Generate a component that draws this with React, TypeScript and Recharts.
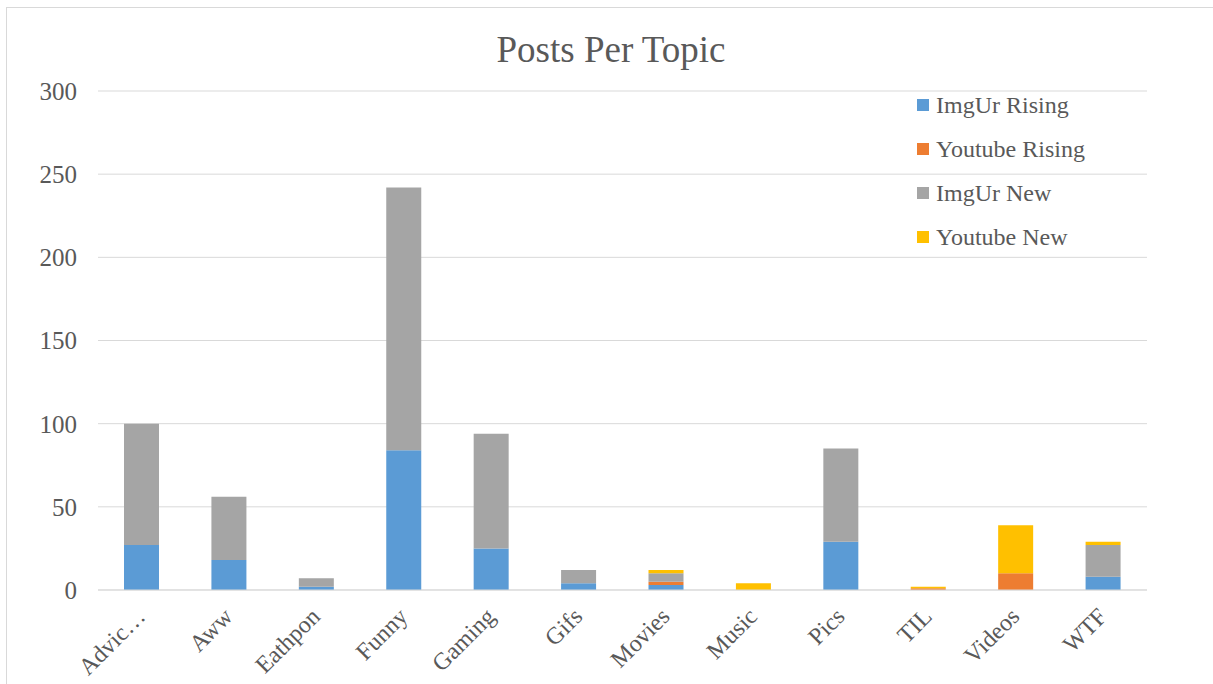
import React from 'react';
import { BarChart, Bar, XAxis, YAxis, CartesianGrid } from 'recharts';

const topics = ['Advice Animals', 'Aww', 'Eathpon', 'Funny', 'Gaming', 'Gifs', 'Movies', 'Music', 'Pics', 'TIL', 'Videos', 'WTF'];
const imgurRising = [27, 18, 2, 84, 25, 4, 3, 0, 29, 0, 0, 8];
const youtubeRising = [0, 0, 0, 0, 0, 0, 2, 0, 0, 1, 10, 0];
const imgurNew = [73, 38, 5, 158, 69, 8, 5, 0, 56, 0, 0, 19];
const youtubeNew = [0, 0, 0, 0, 0, 0, 2, 4, 0, 1, 29, 2];
const yTicks = [0, 50, 100, 150, 200, 250, 300];

const series = [
  { key: 'imgurRising', name: 'ImgUr Rising', color: '#5B9BD5' },
  { key: 'youtubeRising', name: 'Youtube Rising', color: '#ED7D31' },
  { key: 'imgurNew', name: 'ImgUr New', color: '#A5A5A5' },
  { key: 'youtubeNew', name: 'Youtube New', color: '#FFC000' },
];

const data = topics.map((t, i) => ({
  topic: t,
  imgurRising: imgurRising[i],
  youtubeRising: youtubeRising[i],
  imgurNew: imgurNew[i],
  youtubeNew: youtubeNew[i],
}));

const FONT = '"Liberation Serif", "Times New Roman", serif';
const TEXT = '#595959';

const shortLabel = (s: string) => (s.length > 8 ? s.slice(0, 5) + '…' : s);

const XTick = (props: any) => {
  const { x, y, payload } = props;
  const px = x + 5;
  const py = y + 20;
  return (
    <text
      x={px}
      y={py}
      transform={`rotate(-45, ${px}, ${py})`}
      textAnchor="end"
      fill={TEXT}
      fontSize={24}
      fontFamily={FONT}
    >
      {shortLabel(payload.value)}
    </text>
  );
};

export default function App() {
  return (
    <div style={{ position: 'absolute', left: 0, top: 0, width: 1213, height: 684, background: '#fff', overflow: 'hidden' }}>
      <div
        style={{
          position: 'absolute',
          left: 6,
          top: 7,
          width: 1213,
          height: 684,
          border: '1px solid #D9D9D9',
          boxSizing: 'border-box',
        }}
      />
      <div
        style={{
          position: 'absolute',
          left: 0,
          top: 28,
          width: 1222,
          textAlign: 'center',
          fontFamily: FONT,
          fontSize: 37,
          lineHeight: '44px',
          color: TEXT,
        }}
      >
        Posts Per Topic
      </div>
      <div style={{ position: 'absolute', left: 0, top: 0 }}>
        <BarChart
          width={1213}
          height={684}
          data={data}
          margin={{ top: 91, right: 66, bottom: 0, left: 0 }}
          barSize={35}
        >
          <CartesianGrid vertical={false} stroke="#D9D9D9" />
          <XAxis
            dataKey="topic"
            interval={0}
            height={94}
            axisLine={{ stroke: '#D9D9D9' }}
            tickLine={false}
            tick={<XTick />}
          />
          <YAxis
            width={98}
            domain={[0, 300]}
            ticks={yTicks}
            axisLine={false}
            tickLine={false}
            tickSize={0}
            tickMargin={21}
            tick={{ fill: TEXT, fontSize: 25, fontFamily: FONT }}
          />
          {series.map((s) => (
            <Bar key={s.key} dataKey={s.key} name={s.name} stackId="a" fill={s.color} isAnimationActive={false} />
          ))}
        </BarChart>
      </div>
      <div style={{ position: 'absolute', left: 917, top: 83, fontFamily: FONT, fontSize: 24, color: TEXT }}>
        {series.map((s) => (
          <div key={s.key} style={{ display: 'flex', alignItems: 'center', height: 44 }}>
            <span style={{ width: 12, height: 12, background: s.color, display: 'inline-block', marginRight: 7 }} />
            <span>{s.name}</span>
          </div>
        ))}
      </div>
    </div>
  );
}
